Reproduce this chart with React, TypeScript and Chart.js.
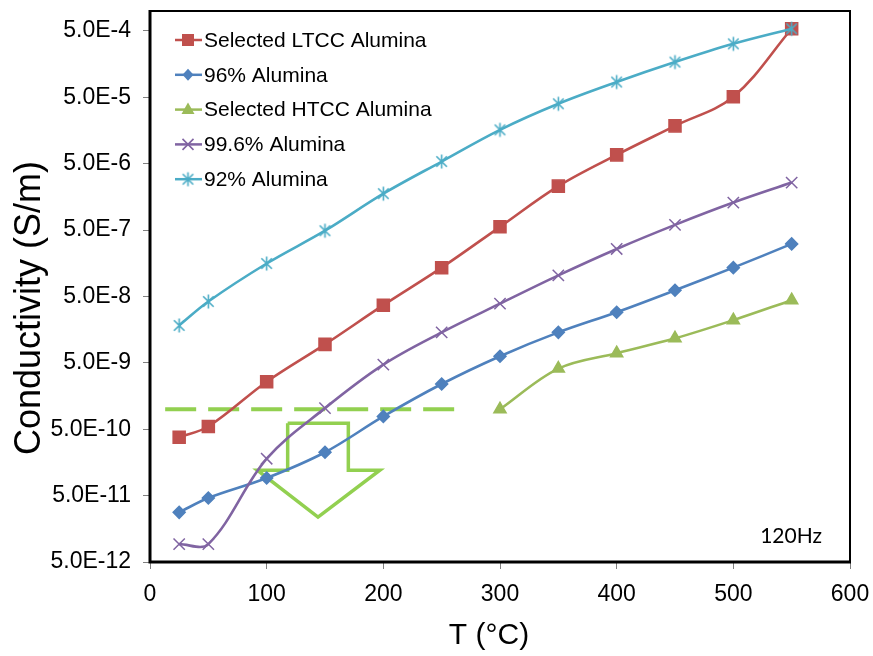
import React, { useEffect, useRef } from 'react';
import { Chart, registerables } from 'chart.js';

Chart.register(...registerables);

// ---- Data ----
const temperatures = [25, 50, 100, 150, 200, 250, 300, 350, 400, 450, 500, 550];
const htccTemperatures = [300, 350, 400, 450, 500, 550];

const ltccValues = [3.8e-10, 5.5e-10, 2.6e-9, 9.5e-9, 3.7e-8, 1.36e-7, 5.6e-7, 2.3e-6, 6.8e-6, 1.86e-5, 5.1e-5, 5.4e-4];
const alumina96Values = [2.8e-11, 4.6e-11, 9.2e-11, 2.25e-10, 7.8e-10, 2.4e-9, 6.3e-9, 1.44e-8, 2.9e-8, 6.2e-8, 1.36e-7, 3.1e-7];
const htccValues = [1.0e-9, 4.1e-9, 7.0e-9, 1.17e-8, 2.2e-8, 4.4e-8];
const alumina996Values = [9.3e-12, 9.3e-12, 1.8e-10, 1.04e-9, 4.7e-9, 1.44e-8, 3.9e-8, 1.04e-7, 2.6e-7, 6.0e-7, 1.3e-6, 2.6e-6];
const alumina92Values = [1.83e-8, 4.2e-8, 1.57e-7, 4.9e-7, 1.77e-6, 5.4e-6, 1.62e-5, 4.0e-5, 8.5e-5, 1.7e-4, 3.2e-4, 5.4e-4];

const seriesNames = ['Selected LTCC Alumina', '96% Alumina', 'Selected HTCC Alumina', '99.6% Alumina', '92% Alumina'];

// threshold (dashed) line and arrow annotation, in data units
const thresholdX = [13, 261];
const thresholdY = [1e-9, 1e-9];
const arrowX = [118, 170, 170, 197, 144, 92, 118, 118];
const arrowY = [6.15e-10, 6.15e-10, 1.21e-10, 1.21e-10, 2.38e-11, 1.21e-10, 1.21e-10, 6.15e-10];

const yTickValues = [5e-12, 5e-11, 5e-10, 5e-9, 5e-8, 5e-7, 5e-6, 5e-5, 5e-4];
const yTickLabels = ['5.0E-12', '5.0E-11', '5.0E-10', '5.0E-9', '5.0E-8', '5.0E-7', '5.0E-6', '5.0E-5', '5.0E-4'];
const xTickStep = 100;
const frequencyLabel = '120Hz';
const xTitle = 'T (°C)';
const yTitle = 'Conductivity (S/m)';

// ---- Styles ----
const FONT = "'Liberation Sans', Arial, Helvetica, sans-serif";
const RED = '#C0504D';
const BLUE = '#4F81BD';
const GREEN = '#9BBB59';
const PURPLE = '#8064A2';
const CYAN = '#4BACC6';
const LIGHT_GREEN = '#92D050';

const zip = (xs: number[], ys: number[]) => xs.map((x, i) => ({ x, y: ys[i] }));

function makeAsterisk(color: string, size: number) {
  const c = document.createElement('canvas');
  c.width = size;
  c.height = size;
  const g = c.getContext('2d')!;
  g.strokeStyle = color;
  g.lineWidth = 1.6;
  const m = size / 2;
  const r = size / 2 - 1.5;
  const d = r * 0.75;
  g.beginPath();
  g.moveTo(m - d, m - d);
  g.lineTo(m + d, m + d);
  g.moveTo(m + d, m - d);
  g.lineTo(m - d, m + d);
  g.moveTo(m, m - r);
  g.lineTo(m, m + r);
  g.stroke();
  return c;
}

function drawMarker(ctx: CanvasRenderingContext2D, style: any, x: number, y: number, color: string) {
  ctx.save();
  ctx.fillStyle = color;
  ctx.strokeStyle = color;
  ctx.lineWidth = 1.6;
  if (style === 'rect') {
    ctx.fillRect(x - 6, y - 6, 12, 12);
  } else if (style === 'rectRot') {
    ctx.beginPath();
    ctx.moveTo(x, y - 6);
    ctx.lineTo(x + 5.5, y);
    ctx.lineTo(x, y + 6);
    ctx.lineTo(x - 5.5, y);
    ctx.closePath();
    ctx.fill();
  } else if (style === 'triangle') {
    ctx.beginPath();
    ctx.moveTo(x, y - 7);
    ctx.lineTo(x + 6.5, y + 4.5);
    ctx.lineTo(x - 6.5, y + 4.5);
    ctx.closePath();
    ctx.fill();
  } else if (style === 'crossRot') {
    ctx.beginPath();
    ctx.moveTo(x - 5.5, y - 5.5);
    ctx.lineTo(x + 5.5, y + 5.5);
    ctx.moveTo(x + 5.5, y - 5.5);
    ctx.lineTo(x - 5.5, y + 5.5);
    ctx.stroke();
  } else if (style instanceof HTMLCanvasElement) {
    ctx.drawImage(style, x - style.width / 2, y - style.height / 2);
  }
  ctx.restore();
}

const overlayPlugin = {
  id: 'overlay',
  afterDraw(chart: any) {
    const { ctx, chartArea } = chart;
    const { left, top, right, bottom } = chartArea;
    ctx.save();
    // frame
    ctx.strokeStyle = '#000';
    ctx.lineWidth = 2;
    ctx.beginPath();
    ctx.moveTo(left, top);
    ctx.lineTo(right, top);
    ctx.lineTo(right, bottom);
    ctx.stroke();
    ctx.lineWidth = 3;
    ctx.beginPath();
    ctx.moveTo(left, top - 1);
    ctx.lineTo(left, bottom);
    ctx.lineTo(right + 1, bottom);
    ctx.stroke();

    // legend inside the plot
    const rowH = 34.8;
    for (let i = 0; i < 5; i++) {
      const ds = chart.data.datasets[i];
      const y = top + 29 + i * rowH;
      ctx.strokeStyle = ds.borderColor;
      ctx.lineWidth = 2.5;
      ctx.beginPath();
      ctx.moveTo(left + 25, y);
      ctx.lineTo(left + 52, y);
      ctx.stroke();
      drawMarker(ctx, ds.pointStyle, left + 38, y, ds.borderColor);
      ctx.fillStyle = '#000';
      ctx.font = `21px ${FONT}`;
      ctx.textAlign = 'left';
      ctx.textBaseline = 'middle';
      ctx.fillText(ds.label, left + 54, y + 1);
    }

    // frequency note
    ctx.fillStyle = '#000';
    ctx.font = `21px Lato, 'Open Sans', sans-serif`;
    ctx.textAlign = 'right';
    ctx.textBaseline = 'middle';
    ctx.fillText(frequencyLabel, right - 28, bottom - 26);

    // axis titles
    ctx.font = `30px ${FONT}`;
    ctx.textAlign = 'center';
    ctx.textBaseline = 'middle';
    ctx.fillText(xTitle, 489, 636);

    ctx.save();
    ctx.translate(30, 308);
    ctx.rotate(-Math.PI / 2);
    ctx.font = `36px ${FONT}`;
    ctx.fillText(yTitle, 0, 0);
    ctx.restore();

    ctx.restore();
  },
};

export default function App() {
  const ref = useRef<HTMLCanvasElement>(null);

  useEffect(() => {
    const star = makeAsterisk(CYAN, 17);
    const mk = (label: string, xs: number[], ys: number[], color: string, pointStyle: any, radius: number, order: number) => ({
      label,
      data: zip(xs, ys),
      borderColor: color,
      backgroundColor: color,
      pointBackgroundColor: color,
      pointBorderColor: color,
      pointStyle,
      pointRadius: radius,
      pointBorderWidth: 1.5,
      borderWidth: 2.6,
      tension: 0.35,
      fill: false,
      order,
    });

    const chart = new Chart(ref.current!, {
      type: 'line',
      data: {
        datasets: [
          mk(seriesNames[0], temperatures, ltccValues, RED, 'rect', 8.5, 5),
          mk(seriesNames[1], temperatures, alumina96Values, BLUE, 'rectRot', 6, 4),
          mk(seriesNames[2], htccTemperatures, htccValues, GREEN, 'triangle', 7, 3),
          mk(seriesNames[3], temperatures, alumina996Values, PURPLE, 'crossRot', 8, 2),
          mk(seriesNames[4], temperatures, alumina92Values, CYAN, star, 8, 1),
          {
            label: 'threshold',
            data: zip(thresholdX, thresholdY),
            borderColor: LIGHT_GREEN,
            borderWidth: 4,
            borderDash: [31, 12],
            pointRadius: 0,
            tension: 0,
            fill: false,
            order: 10,
          },
          {
            label: 'arrow',
            data: zip(arrowX, arrowY),
            borderColor: LIGHT_GREEN,
            borderWidth: 3.5,
            borderJoinStyle: 'miter',
            pointRadius: 0,
            tension: 0,
            fill: false,
            order: 10,
          },
        ] as any,
      },
      options: {
        responsive: false,
        animation: false,
        layout: { padding: { left: 0, top: 11, right: 23, bottom: 0 } },
        plugins: {
          legend: { display: false },
          tooltip: { enabled: false },
        },
        scales: {
          x: {
            type: 'linear',
            min: 0,
            max: 600,
            ticks: {
              stepSize: xTickStep,
              color: '#000',
              font: { family: FONT, size: 23 },
              padding: 12,
              maxRotation: 0,
            },
            grid: { drawOnChartArea: false, tickLength: 7, color: '#808080' },
            border: { display: false },
            afterFit: (s: any) => {
              s.height = 94;
              s.paddingLeft = 0;
              s.paddingRight = 0;
              s.paddingTop = 0;
              s.paddingBottom = 0;
            },
          },
          y: {
            type: 'logarithmic',
            min: 5e-12,
            max: 1e-3,
            afterBuildTicks: (s: any) => {
              s.ticks = yTickValues.map((v) => ({ value: v }));
            },
            ticks: {
              autoSkip: false,
              color: '#000',
              font: { family: FONT, size: 23 },
              padding: 12,
              callback: (_v: any, i: number) => yTickLabels[i],
            },
            grid: { drawOnChartArea: false, tickLength: 7, color: '#808080' },
            border: { display: false },
            afterFit: (s: any) => {
              s.width = 150;
              s.paddingLeft = 0;
              s.paddingRight = 0;
              s.paddingTop = 0;
              s.paddingBottom = 0;
            },
          },
        },
      } as any,
      plugins: [overlayPlugin],
    });
    return () => chart.destroy();
  }, []);

  return (
    <div style={{ position: 'absolute', left: 0, top: 0, width: 873, height: 656, background: '#fff' }}>
      <canvas ref={ref} width={873} height={656} style={{ display: 'block' }} />
    </div>
  );
}
